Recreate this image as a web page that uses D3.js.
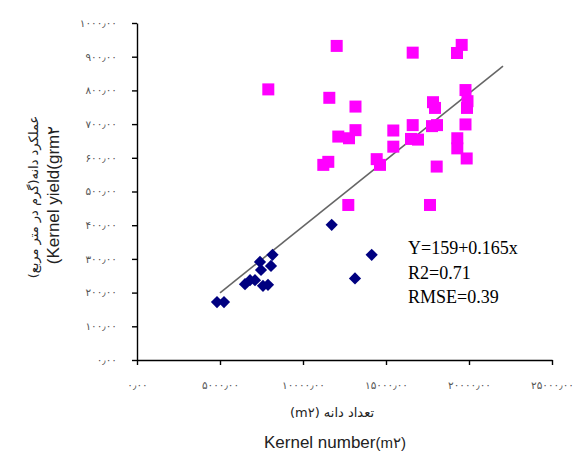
<!DOCTYPE html>
<html><head><meta charset="utf-8">
<script src="https://cdn.jsdelivr.net/npm/d3@7"></script>
<style>body{margin:0;background:#fff}svg{display:block}</style>
</head><body>
<script>
// Kernel number (x) and kernel yield (y) — pink squares
const pinkX = [12030, 7910, 11585, 13162, 13162, 12126, 12771, 11223, 11524, 12729,
  16608, 19560, 19277, 19789, 19909, 19879, 17831, 17952, 16608, 17771, 18072, 19789,
  16506, 16927, 15440, 15440, 14440, 14638, 19295, 19295, 19861, 18054, 17650];
const pinkY = [932, 803, 778, 752, 682, 663, 658, 579, 588, 460,
  912, 935, 911, 801, 768, 748, 765, 748, 697, 694, 697, 699,
  656, 654, 681, 633, 596, 579, 658, 628, 598, 574, 460];
// navy diamonds
const navyX = [4819, 5241, 6506, 6810, 7108, 7410, 7470, 7590, 7891, 8163, 8072, 11729, 13132, 14138];
const navyY = [172, 172, 225, 237, 237, 291, 267, 220, 223, 312, 279, 401, 242, 312];
// regression line end points
const lineX = [5000, 22050];
const lineY = [199, 872];
const xTicks = [0, 5000, 10000, 15000, 20000, 25000];
const yTicks = [0, 100, 200, 300, 400, 500, 600, 700, 800, 900, 1000];
const eqLines = ["Y=159+0.165x", "R2=0.71", "RMSE=0.39"];

const W = 575, H = 453;
const svg = d3.select("body").append("svg").attr("width", W).attr("height", H);
const x = d3.scaleLinear().domain([0, 25000]).range([137, 552]);
const y = d3.scaleLinear().domain([0, 1000]).range([360, 23]);

const fa = n => {
  const d = "۰۱۲۳۴۵۶۷۸۹";
  return String(n).replace(/\d/g, c => d[+c]) + "٫۰۰";
};

const gx = svg.append("g").attr("transform", "translate(0,360)")
  .call(d3.axisBottom(x).tickValues(xTicks).tickSize(5).tickSizeOuter(0).tickPadding(17).tickFormat(fa));
const gy = svg.append("g").attr("transform", "translate(137,0)")
  .call(d3.axisLeft(y).tickValues(yTicks).tickSize(5).tickSizeOuter(0).tickPadding(15).tickFormat(fa));
[gx, gy].forEach(g => {
  g.select(".domain").attr("stroke", "#000").attr("stroke-width", 1.4);
  g.selectAll(".tick line").attr("stroke", "#000").attr("stroke-width", 1.4);
  g.selectAll(".tick text").attr("fill", "#555").attr("font-size", 10.5)
    .attr("font-family", "DejaVu Sans").attr("direction", "ltr");
});

// regression line
svg.append("line")
  .attr("x1", x(lineX[0])).attr("y1", y(lineY[0]))
  .attr("x2", x(lineX[1])).attr("y2", y(lineY[1]))
  .attr("stroke", "#666").attr("stroke-width", 1.6);

// pink squares
const pink = pinkX.map((v, i) => [v, pinkY[i]]);
svg.append("g").selectAll("rect").data(pink).join("rect")
  .attr("x", d => x(d[0]) - 6).attr("y", d => y(d[1]) - 6)
  .attr("width", 12).attr("height", 12).attr("fill", "#FF00FF");

// navy diamonds
const navy = navyX.map((v, i) => [v, navyY[i]]);
const dia = d3.symbol().type(d3.symbolDiamond2).size(95);
svg.append("g").selectAll("path").data(navy).join("path")
  .attr("d", dia).attr("transform", d => `translate(${x(d[0])},${y(d[1])})`)
  .attr("fill", "#000080");

// equation text
svg.append("g").selectAll("text").data(eqLines).join("text")
  .attr("x", 408).attr("y", (d, i) => 254 + i * 24.5)
  .attr("font-family", "Liberation Serif").attr("font-size", 18).attr("fill", "#000")
  .text(d => d);

// y-axis titles
svg.append("text").attr("transform", "translate(38,197) rotate(-90)")
  .attr("text-anchor", "middle").attr("font-family", "DejaVu Sans").attr("font-size", 13)
  .attr("direction", "rtl").attr("fill", "#222").text("عملکرد دانه(گرم در متر مربع)");
svg.append("text").attr("transform", "translate(59,195) rotate(-90)")
  .attr("text-anchor", "middle").attr("font-family", "Liberation Sans").attr("font-size", 17)
  .attr("fill", "#222").text("(Kernel yield(grm۲");

// x-axis titles
svg.append("text").attr("x", 332).attr("y", 417)
  .attr("text-anchor", "middle").attr("font-family", "DejaVu Sans").attr("font-size", 13)
  .attr("direction", "rtl").attr("fill", "#222").text("تعداد دانه (m۲)");
const t2 = svg.append("text").attr("x", 335).attr("y", 448)
  .attr("text-anchor", "middle").attr("font-family", "Liberation Sans").attr("font-size", 17)
  .attr("fill", "#222");
t2.append("tspan").text("Kernel number");
t2.append("tspan").attr("font-size", 15).text("(m۲)");
</script>
</body></html>
